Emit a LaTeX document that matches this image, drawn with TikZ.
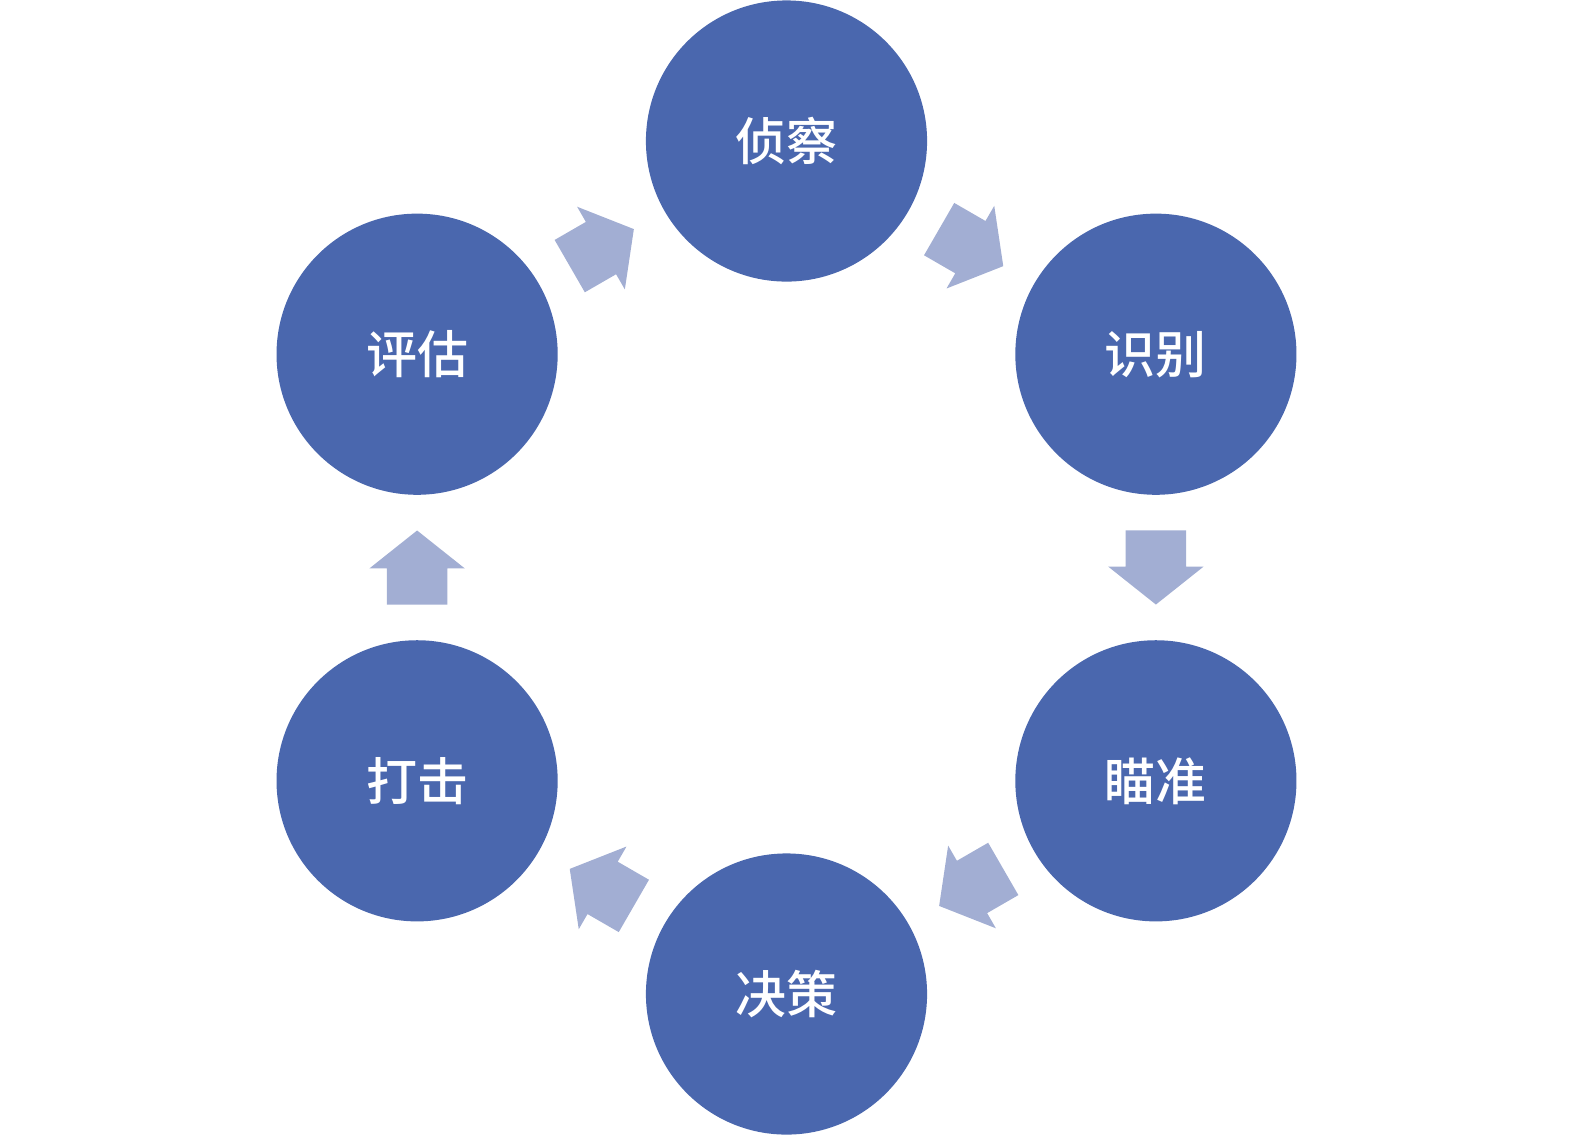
\documentclass[tikz,border=0pt]{standalone}
\usepackage{fontspec}
\newfontfamily\cjk{Noto Sans CJK SC}[UprightFont=* Medium]
\usetikzlibrary{shapes.arrows,calc}
\definecolor{circblue}{HTML}{4A67AE}
\definecolor{arrblue}{HTML}{A2AED3}
\tikzset{
  stage/.style={circle, fill=circblue, draw=none, minimum size=2.81cm, inner sep=0pt,
    text=white, font=\cjk\fontsize{14.5pt}{14.5pt}\selectfont},
  blockarrow/.style={single arrow, fill=arrblue, draw=none, anchor=tail,
    minimum height=0.74cm, single arrow head extend=0.175cm, single arrow tip angle=103,
    inner sep=0pt, outer sep=0pt}
}
\newcommand{\shaftrule}{\rule{0pt}{0.59cm}}
\begin{document}
\begin{tikzpicture}[x=0.01cm,y=-0.01cm]
\useasboundingbox (0,0) rectangle (1575,1135);
\node[stage] (zc) at (786.5,141) {侦察};
\node[stage] (sb) at (1155.9,354.2) {识别};
\node[stage] (mz) at (1155.9,780.8) {瞄准};
\node[stage] (jc) at (786.5,994) {决策};
\node[stage] (dj) at (417.1,780.8) {打击};
\node[stage] (pg) at (417.1,354.2) {评估};
\coordinate (m1) at ($(zc)!0.5!(sb)$);
\coordinate (m2) at ($(sb)!0.5!(mz)$);
\coordinate (m3) at ($(mz)!0.5!(jc)$);
\coordinate (m4) at ($(jc)!0.5!(dj)$);
\coordinate (m5) at ($(dj)!0.5!(pg)$);
\coordinate (m6) at ($(pg)!0.5!(zc)$);
\node[blockarrow, rotate=-30] (a1) at ($(m1)!-0.37cm!(sb)$) {\shaftrule};
\node[blockarrow, rotate=-90] (a2) at ($(m2)!-0.37cm!(mz)$) {\shaftrule};
\node[blockarrow, rotate=-150] (a3) at ($(m3)!-0.37cm!(jc)$) {\shaftrule};
\node[blockarrow, rotate=150] (a4) at ($(m4)!-0.37cm!(dj)$) {\shaftrule};
\node[blockarrow, rotate=90] (a5) at ($(m5)!-0.37cm!(pg)$) {\shaftrule};
\node[blockarrow, rotate=30] (a6) at ($(m6)!-0.37cm!(zc)$) {\shaftrule};
\end{tikzpicture}
\end{document}
